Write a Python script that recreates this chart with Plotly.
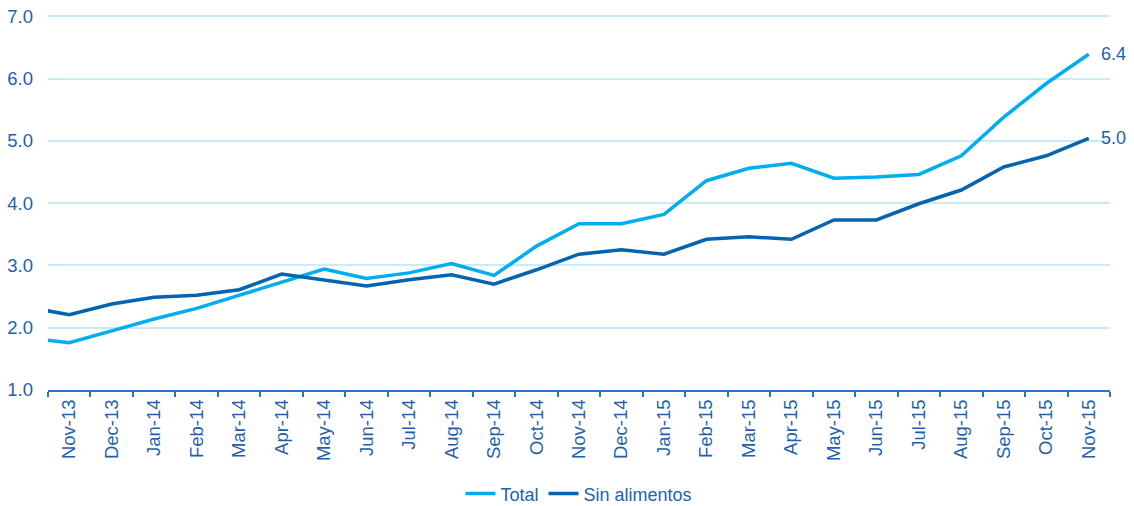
import plotly.graph_objects as go

# monthly series; Oct-13 sits just left of the visible range (line enters from the edge)
months = ['Oct-13', 'Nov-13', 'Dec-13', 'Jan-14', 'Feb-14', 'Mar-14', 'Apr-14', 'May-14',
          'Jun-14', 'Jul-14', 'Aug-14', 'Sep-14', 'Oct-14', 'Nov-14', 'Dec-14', 'Jan-15',
          'Feb-15', 'Mar-15', 'Apr-15', 'May-15', 'Jun-15', 'Jul-15', 'Aug-15', 'Sep-15',
          'Oct-15', 'Nov-15']
total = [1.84, 1.76, 1.95, 2.14, 2.31, 2.52, 2.74, 2.94, 2.79, 2.88, 3.03, 2.84, 3.31,
         3.67, 3.67, 3.82, 4.36, 4.56, 4.64, 4.40, 4.42, 4.46, 4.76, 5.38, 5.92, 6.39]
sin_alimentos = [2.33, 2.21, 2.38, 2.49, 2.52, 2.61, 2.86, 2.77, 2.67, 2.77, 2.85, 2.70, 2.93,
                 3.18, 3.25, 3.18, 3.42, 3.46, 3.42, 3.73, 3.73, 3.99, 4.21, 4.58, 4.76, 5.04]
y_ticks = [1, 2, 3, 4, 5, 6, 7]

TEXT = '#1F5FAD'
LIGHT = '#00AEEF'
DARK = '#0563B0'
FONT = 'Arial, Liberation Sans, sans-serif'

fig = go.Figure()
fig.add_trace(go.Scatter(x=months, y=total, mode='lines', name='Total',
                         line=dict(color=LIGHT, width=3.5)))
fig.add_trace(go.Scatter(x=months, y=sin_alimentos, mode='lines', name='Sin alimentos',
                         line=dict(color=DARK, width=3.5)))

# end-of-line value labels
for series in [total, sin_alimentos]:
    fig.add_annotation(x=months[-1], y=series[-1], text=f'{series[-1]:.1f}',
                       showarrow=False, xanchor='left', xshift=10,
                       font=dict(size=18, color=TEXT, family=FONT))

fig.update_layout(
    width=1134, height=506,
    paper_bgcolor='white', plot_bgcolor='white',
    margin=dict(l=48, r=24, t=15, b=116),
    font=dict(family=FONT, color=TEXT),
    showlegend=True,
    legend=dict(orientation='h', x=0.5, xanchor='center',
                yref='container', y=0.024, yanchor='middle',
                font=dict(size=18, color=TEXT)),
    xaxis=dict(type='category', range=[0.5, len(months) - 0.5], automargin=False,
               showgrid=False, zeroline=False,
               showline=True, linecolor='#2E75C0', linewidth=2,
               ticks='outside', tickson='boundaries', ticklen=5, tickwidth=1.5,
               tickcolor='#2E75C0', tickangle=-90,
               tickfont=dict(size=18.5, color=TEXT)),
    yaxis=dict(range=[1, 7.02], tickvals=y_ticks, tickformat='.1f', automargin=False,
               showgrid=True, gridcolor='#C9EAF8', gridwidth=1.5,
               zeroline=False, showline=False, ticks='',
               ticklabelstandoff=14, ticklabeloverflow='allow',
               tickfont=dict(size=18.5, color=TEXT)),
)

# drop the default 8px page margin so the figure fills the window exactly
fig.write_html('out.html', config={'displayModeBar': False},
               post_script="document.body.style.margin='0';")
